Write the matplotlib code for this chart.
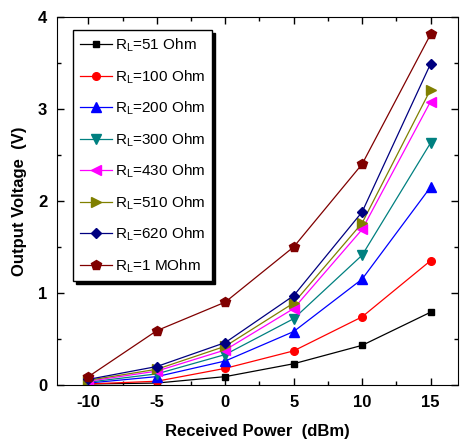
import matplotlib.pyplot as plt
from matplotlib.ticker import MultipleLocator

power = [-10, -5, 0, 5, 10, 15]

labels = ["51 Ohm", "100 Ohm", "200 Ohm", "300 Ohm",
          "430 Ohm", "510 Ohm", "620 Ohm", "1 MOhm"]

v_51 = [0.01, 0.02, 0.09, 0.23, 0.43, 0.79]
v_100 = [0.01, 0.04, 0.18, 0.37, 0.74, 1.35]
v_200 = [0.02, 0.09, 0.26, 0.58, 1.15, 2.15]
v_300 = [0.03, 0.12, 0.33, 0.72, 1.41, 2.63]
v_430 = [0.04, 0.15, 0.38, 0.83, 1.69, 3.08]
v_510 = [0.05, 0.17, 0.42, 0.89, 1.76, 3.21]
v_620 = [0.06, 0.20, 0.46, 0.97, 1.88, 3.49]
v_1m = [0.09, 0.59, 0.90, 1.50, 2.40, 3.81]

series = [v_51, v_100, v_200, v_300, v_430, v_510, v_620, v_1m]
colors = ["black", "#ff0000", "#0000ff", "#008080",
          "#ff00ff", "#808000", "#000080", "#800000"]
markers = ["s", "o", "^", "v", "<", ">", "D", "p"]
msizes = [5, 5.5, 7, 7, 7, 7, 5.5, 7]

plt.rcParams["font.family"] = ["Liberation Sans", "DejaVu Sans"]
plt.rcParams["mathtext.fontset"] = "custom"
plt.rcParams["mathtext.rm"] = "Liberation Sans"
plt.rcParams["axes.unicode_minus"] = False

fig = plt.figure(figsize=(4.63, 4.46), dpi=100)
ax = fig.add_axes([0.123, 0.137, 0.866, 0.825])

for vals, lab, c, m, ms in zip(series, labels, colors, markers, msizes):
    ax.plot(power, vals, color=c, marker=m, markersize=ms, linewidth=0.9,
            label=r"R$_\mathrm{L}$=" + lab)

ax.set_xlim(-12.3, 17.0)
ax.set_ylim(0, 4)
ax.xaxis.set_major_locator(MultipleLocator(5))
ax.xaxis.set_minor_locator(MultipleLocator(2.5))
ax.yaxis.set_major_locator(MultipleLocator(1))
ax.yaxis.set_minor_locator(MultipleLocator(0.5))
ax.tick_params(which="both", direction="in", top=True, right=True,
               labelsize=12, width=1)
ax.tick_params(which="major", length=5, pad=7)
ax.tick_params(which="minor", length=3)
for t in ax.get_xticklabels() + ax.get_yticklabels():
    t.set_fontweight("bold")

ax.set_xlabel("Received Power  (dBm)", fontsize=12, fontweight="bold", labelpad=10)
ax.set_ylabel("Output Voltage  (V)", fontsize=12, fontweight="bold", labelpad=8)

leg = ax.legend(loc="upper left", bbox_to_anchor=(0.04, 0.965), fontsize=11,
                labelspacing=0.9, handlelength=2.1, handletextpad=0.2,
                borderpad=0.45, borderaxespad=0, fancybox=False,
                edgecolor="black", shadow={"color": "black", "alpha": 1.0},
                framealpha=1)
leg.get_frame().set_linewidth(1.0)

fig.savefig("out.png", dpi=100)
